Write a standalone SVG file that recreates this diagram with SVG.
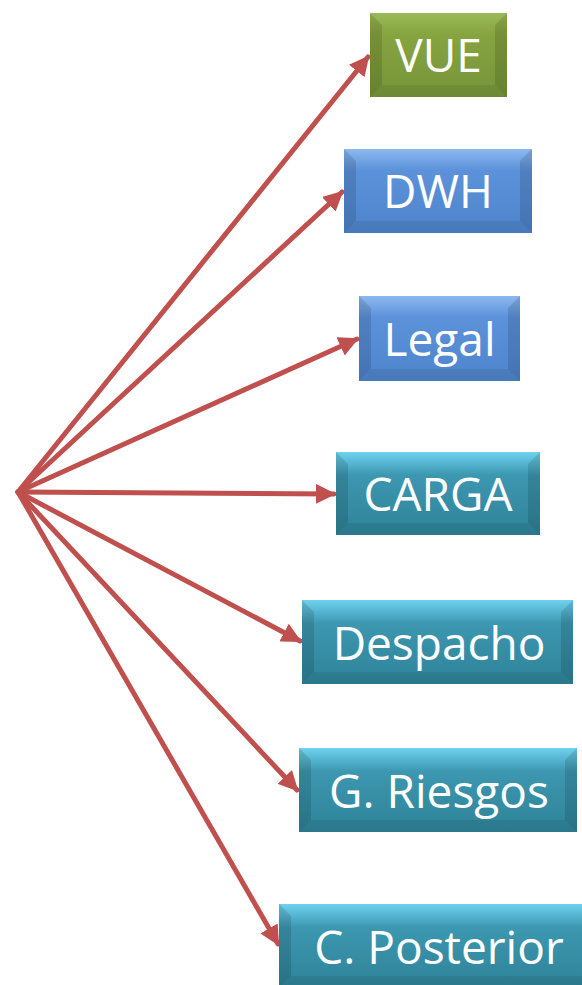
<svg xmlns="http://www.w3.org/2000/svg" width="582" height="985" viewBox="0 0 582 985">
<defs>
<linearGradient id="gG" x1="0" y1="0" x2="0" y2="1"><stop offset="0" stop-color="#9BBB59"/><stop offset="0.25" stop-color="#86A43F"/><stop offset="1" stop-color="#76953A"/></linearGradient>
<linearGradient id="gB" x1="0" y1="0" x2="0" y2="1"><stop offset="0" stop-color="#8DB8EE"/><stop offset="0.25" stop-color="#5C92DA"/><stop offset="1" stop-color="#4E84CC"/></linearGradient>
<linearGradient id="gT" x1="0" y1="0" x2="0" y2="1"><stop offset="0" stop-color="#6FD2EE"/><stop offset="0.28" stop-color="#3C97B0"/><stop offset="1" stop-color="#2F8398"/></linearGradient>
<marker id="ah" viewBox="0 0 10 10" refX="9" refY="5" markerWidth="4" markerHeight="4" orient="auto" markerUnits="strokeWidth"><path d="M0,0 L10,5 L0,10 z" fill="#C0504D"/></marker>
</defs>
<style>
.c line{stroke:#C0504D;stroke-width:5;marker-end:url(#ah);stroke-linecap:round}
.t{font-family:"Open Sans","Noto Sans",sans-serif;font-size:46px;fill:#FFFFFF;text-anchor:middle}
.bl{fill:#000;opacity:0.12}
.br{fill:#000;opacity:0.12}
.bb{fill:#000;opacity:0.08}
</style>
<rect width="582" height="985" fill="#FFFFFF"/>
<g class="c" id="connectors">
<line x1="18" y1="492" x2="368" y2="57"/>
<line x1="18" y1="492" x2="342" y2="192"/>
<line x1="18" y1="492" x2="357" y2="339"/>
<line x1="18" y1="492" x2="334" y2="494"/>
<line x1="18" y1="492" x2="300" y2="641"/>
<line x1="18" y1="492" x2="297" y2="790"/>
<line x1="18" y1="492" x2="278" y2="944"/>
</g>
<g id="vue">
<rect x="370" y="13" width="137" height="84" fill="url(#gG)"/>
<polygon class="bl" points="370,13 382,25 382,85 370,97"/>
<polygon class="br" points="507,13 495,25 495,85 507,97"/>
<polygon class="bb" points="370,97 382,85 495,85 507,97"/>
<text class="t" x="438.5" y="72">VUE</text>
</g>
<g id="dwh">
<rect x="344" y="149" width="188" height="84" fill="url(#gB)"/>
<polygon class="bl" points="344,149 356,161 356,221 344,233"/>
<polygon class="br" points="532,149 520,161 520,221 532,233"/>
<polygon class="bb" points="344,233 356,221 520,221 532,233"/>
<text class="t" x="438" y="208">DWH</text>
</g>
<g id="legal">
<rect x="359" y="296" width="161" height="85" fill="url(#gB)"/>
<polygon class="bl" points="359,296 371,308 371,369 359,381"/>
<polygon class="br" points="520,296 508,308 508,369 520,381"/>
<polygon class="bb" points="359,381 371,369 508,369 520,381"/>
<text class="t" x="439.5" y="356">Legal</text>
</g>
<g id="carga">
<rect x="336" y="452" width="204" height="83" fill="url(#gT)"/>
<polygon class="bl" points="336,452 348,464 348,523 336,535"/>
<polygon class="br" points="540,452 528,464 528,523 540,535"/>
<polygon class="bb" points="336,535 348,523 528,523 540,535"/>
<text class="t" x="438" y="511">CARGA</text>
</g>
<g id="despacho">
<rect x="302" y="600" width="271" height="84" fill="url(#gT)"/>
<polygon class="bl" points="302,600 314,612 314,672 302,684"/>
<polygon class="br" points="573,600 561,612 561,672 573,684"/>
<polygon class="bb" points="302,684 314,672 561,672 573,684"/>
<text class="t" x="439" y="660">Despacho</text>
</g>
<g id="griesgos">
<rect x="299" y="748" width="278" height="84" fill="url(#gT)"/>
<polygon class="bl" points="299,748 311,760 311,820 299,832"/>
<polygon class="br" points="577,748 565,760 565,820 577,832"/>
<polygon class="bb" points="299,832 311,820 565,820 577,832"/>
<text class="t" x="439" y="808">G. Riesgos</text>
</g>
<g id="cposterior">
<rect x="279" y="904" width="310" height="84" fill="url(#gT)"/>
<polygon class="bl" points="279,904 291,916 291,976 279,988"/>
<polygon class="bb" points="279,988 291,976 589,976 589,988"/>
<text class="t" x="439" y="964">C. Posterior</text>
</g>
</svg>
